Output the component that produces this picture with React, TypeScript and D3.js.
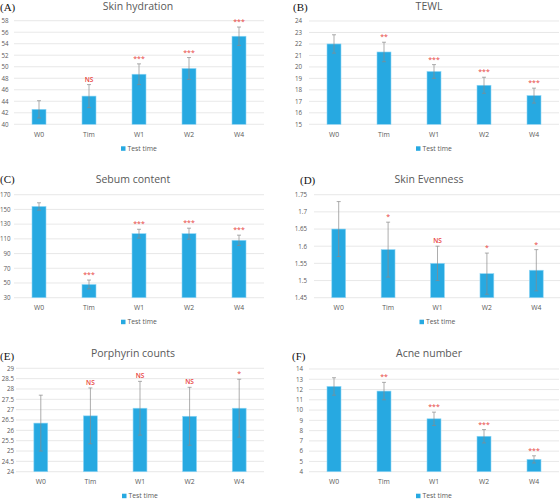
import React from "react";
import * as d3 from "d3";

const weeks = ["W0", "Tim", "W1", "W2", "W4"];

const hydrationMean = [42.6, 44.9, 48.7, 49.7, 55.3];
const hydrationErr = [1.5, 2.0, 1.8, 1.9, 1.6];
const hydrationSig = ["", "NS", "***", "***", "***"];

const tewlMean = [22.0, 21.3, 19.6, 18.4, 17.5];
const tewlErr = [0.8, 0.85, 0.6, 0.7, 0.65];
const tewlSig = ["", "**", "***", "***", "***"];

const sebumMean = [154, 48, 117, 117, 108];
const sebumErr = [5, 6, 6, 7.5, 7];
const sebumSig = ["", "***", "***", "***", "***"];

const evenMean = [1.65, 1.59, 1.55, 1.52, 1.53];
const evenErr = [0.08, 0.08, 0.05, 0.06, 0.06];
const evenSig = ["", "*", "NS", "*", "*"];

const porphMean = [26.35, 26.7, 27.07, 26.68, 27.07];
const porphErr = [1.35, 1.35, 1.3, 1.4, 1.4];
const porphSig = ["", "NS", "NS", "NS", "*"];

const acneMean = [12.3, 11.85, 9.15, 7.45, 5.2];
const acneErr = [0.85, 0.85, 0.65, 0.65, 0.35];
const acneSig = ["", "**", "***", "***", "***"];

const BAR = "#27a9e1";
const TEXT = "#595959";
const FONT = "'Open Sans', 'Liberation Sans', sans-serif";

type PanelProps = {
  letter: string;
  letterX: number;
  letterY: number;
  title: string;
  titleX: number;
  titleY: number;
  x0: number;
  x1: number;
  yTop: number;
  yBottom: number;
  domain: [number, number];
  step: number;
  decimals: number;
  tickEnd: number;
  mean: number[];
  err: number[];
  sig: string[];
};

const Panel = (p: PanelProps) => {
  const x = d3
    .scaleBand<string>()
    .domain(weeks)
    .range([p.x0, p.x1])
    .paddingInner(0.72)
    .paddingOuter(0.36);
  const y = d3.scaleLinear().domain(p.domain).range([p.yBottom, p.yTop]);
  const ticks = d3.range(p.domain[0], p.domain[1] + p.step / 2, p.step);
  const fmt = (v: number) => String(+v.toFixed(p.decimals));
  const legendX = (p.x0 + p.x1) / 2;
  return (
    <g fontFamily={FONT}>
      <text x={p.letterX} y={p.letterY} fontFamily="'Liberation Serif', serif" fontSize={11} fill="#111">
        {p.letter}
      </text>
      <text x={p.titleX} y={p.titleY} textAnchor="middle" fontSize={10.5} fill={TEXT}>
        {p.title}
      </text>
      {ticks.map((t) => (
        <g key={t}>
          <line x1={p.x0} x2={p.x1} y1={y(t)} y2={y(t)} stroke="#dedede" strokeWidth={0.7} />
          <text x={p.tickEnd} y={y(t) + 2.3} textAnchor="end" fontSize={6.2} fill={TEXT}>
            {fmt(t)}
          </text>
        </g>
      ))}
      {weeks.map((w, i) => {
        const bx = x(w)!;
        const cx = bx + x.bandwidth() / 2;
        const top = y(p.mean[i] + p.err[i]);
        const bot = y(p.mean[i] - p.err[i]);
        return (
          <g key={w}>
            <rect
              x={bx}
              y={y(p.mean[i])}
              width={x.bandwidth()}
              height={p.yBottom - y(p.mean[i])}
              fill={BAR}
              stroke="#8fd6f5"
              strokeWidth={0.6}
            />
            <line x1={cx} x2={cx} y1={top} y2={bot} stroke="#8a8a8a" strokeWidth={0.7} />
            <line x1={cx - 2} x2={cx + 2} y1={top} y2={top} stroke="#8a8a8a" strokeWidth={0.7} />
            <line x1={cx - 2} x2={cx + 2} y1={bot} y2={bot} stroke="#8a8a8a" strokeWidth={0.7} />
            {p.sig[i] && (
              <text
                x={cx}
                y={top - 3}
                textAnchor="middle"
                fontSize={p.sig[i] === "NS" ? 6.5 : 7}
                fontWeight={p.sig[i] === "NS" ? 600 : 400}
                fill="#e8413c"
              >
                {p.sig[i]}
              </text>
            )}
            <text x={cx} y={p.yBottom + 12.5} textAnchor="middle" fontSize={6.8} fill={TEXT}>
              {w}
            </text>
          </g>
        );
      })}
      <rect x={legendX - 18} y={p.yBottom + 22} width={4.5} height={4.5} fill={BAR} />
      <text x={legendX - 11.5} y={p.yBottom + 26.5} fontSize={6.8} fill={TEXT}>
        Test time
      </text>
    </g>
  );
};

export default function App() {
  return (
    <div style={{ position: "absolute", left: 0, top: 0 }}>
      <svg width={560} height={501} style={{ display: "block", background: "#fff" }}>
        <Panel letter="(A)" letterX={0} letterY={10.5} title="Skin hydration" titleX={138} titleY={10}
          x0={14} x1={264} yTop={20.7} yBottom={124.3} domain={[40, 58]} step={2} decimals={0} tickEnd={8.5}
          mean={hydrationMean} err={hydrationErr} sig={hydrationSig} />
        <Panel letter="(B)" letterX={293} letterY={10.5} title="TEWL" titleX={429} titleY={10}
          x0={309} x1={559} yTop={21} yBottom={124.3} domain={[15, 24]} step={1} decimals={0} tickEnd={302}
          mean={tewlMean} err={tewlErr} sig={tewlSig} />
        <Panel letter="(C)" letterX={0} letterY={183} title="Sebum content" titleX={133} titleY={183}
          x0={14} x1={264} yTop={194.7} yBottom={297.7} domain={[30, 170]} step={20} decimals={0} tickEnd={10.5}
          mean={sebumMean} err={sebumErr} sig={sebumSig} />
        <Panel letter="(D)" letterX={300} letterY={184} title="Skin Evenness" titleX={429} titleY={183}
          x0={314} x1={561} yTop={194.7} yBottom={297.7} domain={[1.45, 1.75]} step={0.05} decimals={2} tickEnd={307}
          mean={evenMean} err={evenErr} sig={evenSig} />
        <Panel letter="(E)" letterX={0} letterY={360} title="Porphyrin counts" titleX={133} titleY={357}
          x0={16} x1={264} yTop={368.3} yBottom={471.7} domain={[24, 29]} step={0.5} decimals={1} tickEnd={14}
          mean={porphMean} err={porphErr} sig={porphSig} />
        <Panel letter="(F)" letterX={292} letterY={360} title="Acne number" titleX={429} titleY={357}
          x0={309} x1={559} yTop={369} yBottom={471.7} domain={[4, 14]} step={1} decimals={0} tickEnd={303}
          mean={acneMean} err={acneErr} sig={acneSig} />
      </svg>
    </div>
  );
}
